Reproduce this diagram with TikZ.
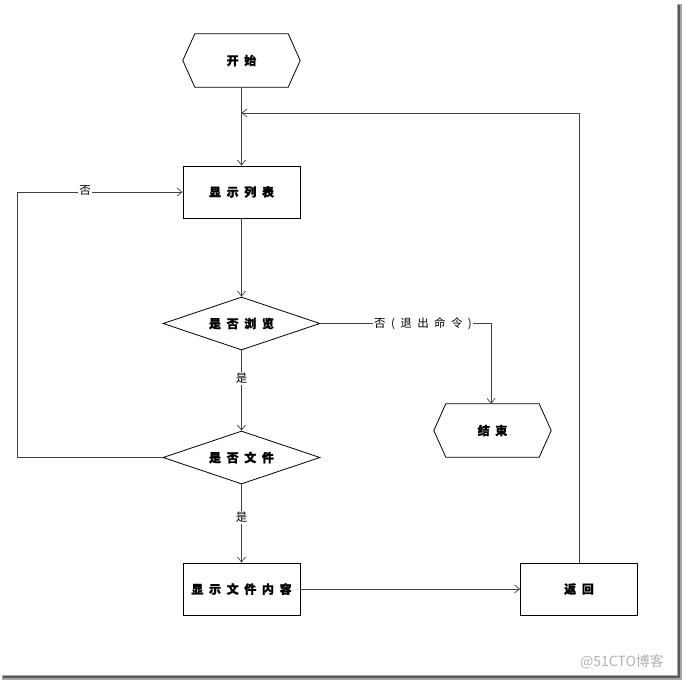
\documentclass[tikz,border=0pt]{standalone}
\usepackage{fontspec}
\usetikzlibrary{shapes.geometric,arrows.meta,calc}
\newfontfamily\cjk[LetterSpace=47]{Noto Sans CJK SC}
\newfontfamily\cjkheavy[LetterSpace=47,FakeBold=1.2]{Noto Sans CJK SC}
\newfontfamily\cjkplain{Noto Sans CJK SC}
\tikzset{
  box/.style={draw=black, line width=0.8pt, minimum width=117pt, minimum height=52pt, inner sep=0pt, font=\cjkheavy\bfseries\fontsize{12}{13}\selectfont},
  hexbase/.style={draw=none, minimum width=117pt, minimum height=53pt, inner sep=0pt, font=\cjkheavy\bfseries\fontsize{12}{13}\selectfont},
  hexline/.style={draw=black, line width=0.8pt},
  decision/.style={diamond, aspect=2.96, draw=black, line width=0.8pt, minimum width=157pt, minimum height=53pt, inner sep=0pt, font=\cjkheavy\bfseries\fontsize{12}{13}\selectfont},
  conn/.style={draw=black!75, line width=0.8pt},
  arr/.style={conn, -{Straight Barb[length=5pt,width=8pt,line width=0.7pt]}},
  lbl/.style={fill=white, inner sep=1.5pt, font=\cjk\fontsize{11.5}{12}\selectfont}
}
\begin{document}
\begin{tikzpicture}[x=1pt,y=-1pt]
\useasboundingbox (0,0) rectangle (682,680);
\fill[white] (0,0) rectangle (682,680);
% shadow frame
\fill[black!35] (677,4) rectangle (682,680);
\fill[black!35] (2,675) rectangle (682,680);
\fill[black!65] (678,5) rectangle (680,678);
\fill[black!65] (3,676) rectangle (680,678);

% nodes
\node[hexbase] (start) at (241.5,60.5) {开始};
\draw[hexline] (start.west) -- ([xshift=12pt]start.north west) -- ([xshift=-12pt]start.north east) -- (start.east) -- ([xshift=-12pt]start.south east) -- ([xshift=12pt]start.south west) -- cycle;
\node[box] (list) at (241.5,192) {显示列表};
\node[decision] (browse) at (241.5,323.5) {是否浏览};
\node[hexbase] (end) at (492.5,430.5) {结束};
\draw[hexline] (end.west) -- ([xshift=12pt]end.north west) -- ([xshift=-12pt]end.north east) -- (end.east) -- ([xshift=-12pt]end.south east) -- ([xshift=12pt]end.south west) -- cycle;
\node[decision] (isfile) at (241.5,457.5) {是否文件};
\node[box] (show) at (241.5,589) {显示文件内容};
\node[box] (back) at (579,589) {返回};

\coordinate (retTop) at (579,113);
\coordinate (retIn) at (241.5,113);
\coordinate (exitCorner) at (491,323.5);
\coordinate (leftBottom) at (17,457.5);
\coordinate (leftTop) at (17,192);

% connectors
\draw[arr] (start) -- (list);
\draw[arr] (back) -- (retTop) -- (retIn);
\draw[arr] (list) -- (browse);
\draw[arr] (browse.east) -- (exitCorner) -- (end.north -| exitCorner);
\node[lbl] at (423,323.5) {否(退出命令)};
\draw[arr] (browse) -- node[lbl, pos=0.35] {是} (isfile);
\draw[arr] (isfile.west) -- (leftBottom) -- (leftTop) -- (list.west);
\node[lbl] at (85,190) {否};
\draw[arr] (isfile) -- node[lbl, pos=0.42] {是} (show);
\draw[arr] (show) -- (back);

% watermark
\node[text=black!30, font=\cjkplain\fontsize{14}{15}\selectfont, inner sep=0pt] (wm) at (622,662) {@51CTO博客};
\end{tikzpicture}
\end{document}
